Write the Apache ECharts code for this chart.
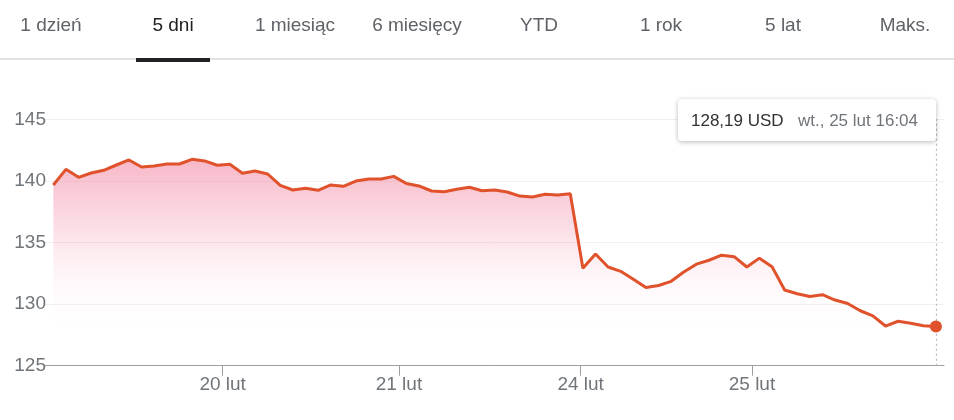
<!DOCTYPE html>
<html>
<head>
<meta charset="utf-8">
<script src="https://cdn.jsdelivr.net/npm/echarts@6/dist/echarts.min.js"></script>
<style>
html,body{margin:0;padding:0;background:#fff;}
#chart{width:954px;height:420px;}
</style>
</head>
<body>
<div id="chart"></div>
<script>
// ---- data ----
const tabLabels = ['1 dzień', '5 dni', '1 miesiąc', '6 miesięcy', 'YTD', '1 rok', '5 lat', 'Maks.'];
const selectedTab = 1;
const prices = [
  139.67,140.94,140.29,140.64,140.86,141.29,141.70,141.13,141.21,141.37,141.37,141.75,141.62,141.27,
  141.35,140.62,140.80,140.56,139.64,139.26,139.40,139.24,139.67,139.56,139.99,140.15,140.15,140.37,
  139.79,139.59,139.18,139.12,139.32,139.48,139.20,139.26,139.10,138.77,138.69,138.91,138.86,138.96,
  132.91,134.07,133.01,132.66,132.02,131.35,131.51,131.85,132.61,133.24,133.56,133.97,133.85,133.01,
  133.73,133.04,131.14,130.84,130.62,130.76,130.33,130.05,129.46,129.05,128.22,128.61,128.45,128.25,128.19
];
const dayTickPositions = [13.43, 27.41, 41.82, 55.41];
const dayTickLabels = ['20 lut', '21 lut', '24 lut', '25 lut'];
const yTicks = [125, 130, 135, 140, 145];
const currency = 'USD';
const lastTimeLabel = 'wt., 25 lut 16:04';

// ---- chart ----
const FONT = '"Liberation Sans", Arial, sans-serif';
const LINE = '#e0522b';
const chart = echarts.init(document.getElementById('chart'), null, {renderer: 'canvas'});

const lineData = prices.map((v, i) => [i, v]);
const lastIdx = prices.length - 1;
const lastVal = prices[lastIdx];
const priceText = lastVal.toFixed(2).replace('.', ',') + ' ' + currency;

const tabW = 122, tabX0 = 51;
const graphics = [];
graphics.push({type: 'rect', z: 50, shape: {x: 0, y: 58, width: 954, height: 2}, style: {fill: '#e3e3e3'}});
tabLabels.forEach((t, i) => {
  graphics.push({
    type: 'text', z: 50, x: tabX0 + i * tabW, y: 26,
    style: {text: t, font: '19px ' + FONT, fill: i === selectedTab ? '#202124' : '#5f6368',
      textAlign: 'center', textVerticalAlign: 'middle'}
  });
});
graphics.push({type: 'rect', z: 51, shape: {x: tabX0 + selectedTab * tabW - 37, y: 58, width: 74, height: 4}, style: {fill: '#202124'}});
// tooltip box
graphics.push({type: 'rect', z: 100, shape: {x: 678, y: 99, width: 258, height: 42, r: 4},
  style: {fill: '#fff', shadowBlur: 5, shadowOffsetY: 1, shadowColor: 'rgba(0,0,0,0.28)'}});
graphics.push({type: 'text', z: 101, x: 691, y: 121,
  style: {text: priceText, font: '17px ' + FONT, fill: '#303134', textVerticalAlign: 'middle'}});
graphics.push({type: 'text', z: 101, x: 798, y: 121,
  style: {text: lastTimeLabel, font: '17px ' + FONT, fill: '#70757a', textVerticalAlign: 'middle'}});

const option = {
  animation: false,
  grid: {left: 45, right: 10, top: 119.3, bottom: 54.3, containLabel: false},
  xAxis: {
    type: 'value', min: -0.66, max: 70.64,
    axisLine: {show: true, lineStyle: {color: '#9e9e9e', width: 1}},
    axisTick: {show: true, length: 10, customValues: dayTickPositions, lineStyle: {color: '#9e9e9e'}},
    axisLabel: {
      customValues: dayTickPositions, margin: 10, color: '#70757a', fontSize: 19, fontFamily: FONT,
      formatter: function (v) {
        let best = 0;
        dayTickPositions.forEach((p, i) => { if (Math.abs(p - v) < Math.abs(dayTickPositions[best] - v)) best = i; });
        return dayTickLabels[best];
      }
    },
    splitLine: {show: false}
  },
  yAxis: {
    type: 'value', min: yTicks[0], max: yTicks[yTicks.length - 1], interval: 5,
    axisLine: {show: false}, axisTick: {show: false},
    axisLabel: {margin: -1, color: '#70757a', fontSize: 19, fontFamily: FONT},
    splitLine: {lineStyle: {color: '#f0f0f0', width: 1}}
  },
  graphic: graphics,
  series: [
    {
      type: 'line', data: lineData, showSymbol: false, smooth: false,
      lineStyle: {color: LINE, width: 3},
      areaStyle: {
        opacity: 1,
        color: new echarts.graphic.LinearGradient(0, 0, 0, 1, [
          {offset: 0, color: 'rgba(242,125,155,0.55)'},
          {offset: 0.55, color: 'rgba(246,150,175,0.10)'},
          {offset: 0.85, color: 'rgba(255,255,255,0)'}
        ])
      },
      markLine: {
        silent: true, symbol: 'none', label: {show: false},
        lineStyle: {color: '#b8b8b8', type: [2, 3], width: 1.2},
        data: [{xAxis: lastIdx}]
      },
      z: 3
    },
    {
      type: 'scatter', data: [[lastIdx, lastVal]], symbol: 'circle', symbolSize: 12,
      itemStyle: {color: LINE, opacity: 1}, z: 5
    }
  ]
};
chart.setOption(option);
</script>
</body>
</html>
